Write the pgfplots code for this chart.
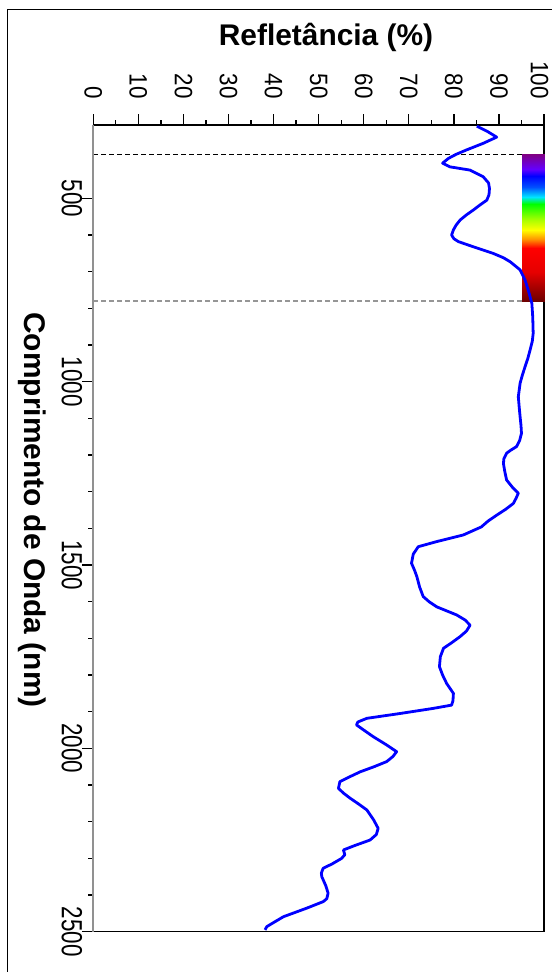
\documentclass[border=0pt]{standalone}
\usepackage{fontspec}
\setmainfont{Liberation Sans}
\usepackage{graphicx}
\usepackage{pgfplots}
\pgfplotsset{compat=1.18}
\newcommand{\sx}[1]{\scalebox{1}[1.12]{#1}}
\newcommand{\sy}[1]{\scalebox{1}[1.3]{#1}}
\definecolor{axgray}{RGB}{145,145,145}
\definecolor{dashgray}{RGB}{150,150,150}
\pgfplotstableread{
wl refl
303 85.1
318 87.5
333 89.5
350 86.5
368 82.8
380 80.5
391 78.8
404 77.5
414 79.1
423 83.6
441 86.5
458 87.7
473 87.9
490 87.8
505 87.3
518 85.8
532 84.3
545 82.8
559 81.4
573 80.5
586 79.9
600 79.5
610 80.0
618 81.0
632 84.3
650 88.7
662 91.0
673 92.5
695 94.7
723 95.8
750 96.5
786 97.3
823 97.5
868 97.6
890 97.4
914 96.9
937 96.4
959 95.8
982 95.2
1004 94.7
1041 94.3
1070 94.5
1096 94.7
1120 94.9
1141 95.0
1160 94.6
1177 93.9
1187 92.6
1195 91.7
1210 91.1
1223 91.0
1245 91.3
1268 91.7
1288 93.0
1304 94.3
1318 93.8
1332 93.2
1348 91.5
1364 89.5
1380 87.6
1396 86.1
1418 82.1
1436 76.2
1450 72.1
1470 71.0
1495 70.6
1515 71.3
1532 71.8
1560 72.4
1586 73.2
1600 74.5
1614 76.2
1636 80.6
1650 82.5
1664 83.6
1680 82.8
1695 81.4
1712 79.5
1727 77.7
1750 77.0
1777 76.8
1800 77.5
1823 78.4
1850 79.9
1870 79.8
1882 79.5
1891 75.4
1905 68.0
1918 60.7
1928 58.7
1936 58.4
1950 60.0
1968 62.1
1990 65.0
2009 67.3
2022 66.5
2036 65.1
2050 62.3
2064 59.2
2078 56.8
2091 54.7
2109 54.4
2122 55.5
2136 57.0
2152 58.9
2168 60.7
2195 62.2
2218 63.2
2235 62.8
2250 61.4
2265 58.0
2277 55.5
2290 55.8
2300 55.1
2315 53.0
2327 51.0
2340 50.6
2350 50.7
2375 51.6
2395 52.1
2410 51.8
2418 51.0
2436 47.3
2459 42.2
2475 40.0
2486 38.5
2495 38.1
}\spectrum
\pgfplotstableread{
x y c
95.2 380 380
100 380 380
100 420 420
95.2 420 420
95.2 420 420
100 420 420
100 440 440
95.2 440 440
95.2 440 440
100 440 440
100 470 470
95.2 470 470
95.2 470 470
100 470 470
100 495 495
95.2 495 495
95.2 495 495
100 495 495
100 515 515
95.2 515 515
95.2 515 515
100 515 515
100 560 560
95.2 560 560
95.2 560 560
100 560 560
100 585 585
95.2 585 585
95.2 585 585
100 585 585
100 610 610
95.2 610 610
95.2 610 610
100 610 610
100 635 635
95.2 635 635
95.2 635 635
100 635 635
100 700 700
95.2 700 700
95.2 700 700
100 700 700
100 780 780
95.2 780 780
}\visbar
\begin{document}
\begin{tikzpicture}
\path[use as bounding box, fill=white] (0bp,0bp) rectangle (552bp,-972bp);
\draw[line width=1.3bp] (7.5bp,-990bp) -- (7.5bp,-9.5bp) -- (570bp,-9.5bp);
\node[anchor=base, font=\fontsize{30}{34}\selectfont\bfseries] at (326bp,-45.5bp) {Refletância (\%)};
\node[anchor=base, rotate=-90, font=\fontsize{30}{34}\selectfont\bfseries] at (24.5bp,-510bp) {Comprimento de Onda (nm)};
\begin{axis}[
  at={(318.65bp,-528.35bp)}, anchor=center,
  scale only axis, width=450.7bp, height=806.7bp,
  xmin=0, xmax=100, ymin=300, ymax=2500, y dir=reverse,
  axis line style={line width=1.5bp, black},
  tick align=outside,
  major tick length=11bp, minor tick length=5bp,
  every tick/.style={black, line width=1.3bp},
  xtick={0,10,...,100},
  xticklabels={\sx{0},\sx{10},\sx{20},\sx{30},\sx{40},\sx{50},\sx{60},\sx{70},\sx{80},\sx{90},\raisebox{-4.5bp}[\height][\depth]{\sx{100}}},
  minor x tick num=1,
  ytick={500,1000,1500,2000,2500},
  yticklabels={\sy{500},\sy{1000},\sy{1500},\sy{2000},\sy{2500}},
  minor y tick num=4,
  xtick pos=upper, xticklabel pos=upper, ytick pos=left,
  tick label style={font=\fontsize{22.5}{26}\selectfont, inner sep=0pt},
  xticklabel style={rotate=-90, anchor=east},
  xticklabel shift=15bp,
  yticklabel style={rotate=-90, anchor=north},
  colormap={spec}{rgb255(0pt)=(128,0,128) rgb255(40pt)=(100,0,255) rgb255(60pt)=(0,0,255) rgb255(90pt)=(0,80,255) rgb255(115pt)=(0,230,255) rgb255(135pt)=(0,255,0) rgb255(180pt)=(170,255,0) rgb255(205pt)=(255,255,0) rgb255(230pt)=(255,150,0) rgb255(255pt)=(255,0,0) rgb255(320pt)=(230,0,0) rgb255(400pt)=(110,0,0)},
  point meta min=380, point meta max=780,
  after end axis/.code={
    \draw[axgray, line width=2.2bp] (rel axis cs:0,0) -- (rel axis cs:0,1);
  },
]
\addplot[patch, patch type=rectangle, shader=interp, point meta=explicit] table[x=x, y=y, meta=c] {\visbar};
\addplot[black, line width=1.4bp, dash pattern=on 5bp off 3bp] coordinates {(0,380) (95.2,380)};
\addplot[dashgray, line width=1.4bp, dash pattern=on 5bp off 3bp] coordinates {(0,780) (95.2,780)};
\addplot[blue, line width=2.8bp, line join=round] table[x=refl, y=wl] {\spectrum};
\end{axis}
\end{tikzpicture}
\end{document}
